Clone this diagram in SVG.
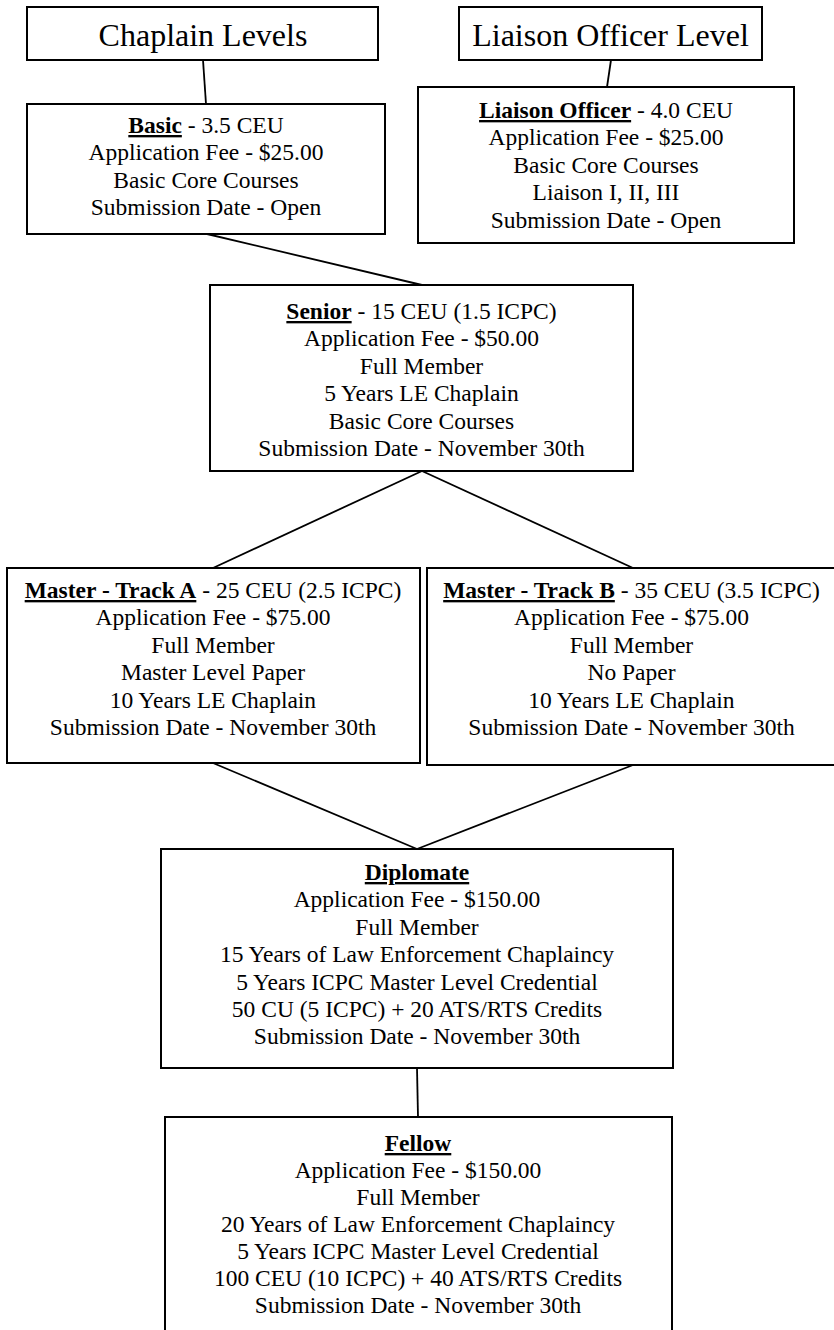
<svg xmlns="http://www.w3.org/2000/svg" width="834" height="1330" viewBox="0 0 834 1330">
<style>
  .box { fill: #ffffff; stroke: #000000; stroke-width: 2; }
  .ln { stroke: #000000; stroke-width: 1.8; fill: none; }
  text { font-family: "Liberation Serif", "Times New Roman", serif; fill: #000000; text-anchor: middle; }
  .t { font-size: 32px; }
  .b { font-size: 23.5px; }
  .h { font-weight: bold; text-decoration: underline; }
</style>
<rect width="834" height="1330" fill="#ffffff"/>
<g id="connectors">
  <line class="ln" x1="203" y1="60" x2="206" y2="104"/>
  <line class="ln" x1="611" y1="60" x2="607" y2="87"/>
  <line class="ln" x1="207" y1="234" x2="422" y2="285"/>
  <line class="ln" x1="422" y1="471" x2="213" y2="568"/>
  <line class="ln" x1="422" y1="471" x2="633" y2="568"/>
  <line class="ln" x1="213" y1="763" x2="417" y2="849"/>
  <line class="ln" x1="633" y1="765" x2="417" y2="849"/>
  <line class="ln" x1="417" y1="1068" x2="418" y2="1117"/>
</g>
<g id="chaplain-levels">
  <rect class="box" x="27" y="7" width="351" height="53"/>
  <text class="t" x="203" y="46">Chaplain Levels</text>
</g>
<g id="liaison-officer-level">
  <rect class="box" x="459" y="7" width="303" height="53"/>
  <text class="t" x="610.5" y="46">Liaison Officer Level</text>
</g>
<g id="basic">
  <rect class="box" x="27" y="104" width="358" height="130"/>
  <text class="b" x="206" y="133"><tspan class="h">Basic</tspan> - 3.5 CEU</text>
  <text class="b" x="206" y="160.4">Application Fee - $25.00</text>
  <text class="b" x="206" y="187.8">Basic Core Courses</text>
  <text class="b" x="206" y="215.2">Submission Date - Open</text>
</g>
<g id="liaison-officer">
  <rect class="box" x="418" y="87" width="376" height="156"/>
  <text class="b" x="606" y="118"><tspan class="h">Liaison Officer</tspan> - 4.0 CEU</text>
  <text class="b" x="606" y="145.4">Application Fee - $25.00</text>
  <text class="b" x="606" y="172.8">Basic Core Courses</text>
  <text class="b" x="606" y="200.2">Liaison I, II, III</text>
  <text class="b" x="606" y="227.6">Submission Date - Open</text>
</g>
<g id="senior">
  <rect class="box" x="210" y="285" width="423" height="186"/>
  <text class="b" x="421.5" y="319"><tspan class="h">Senior</tspan> - 15 CEU (1.5 ICPC)</text>
  <text class="b" x="421.5" y="346.4">Application Fee - $50.00</text>
  <text class="b" x="421.5" y="373.8">Full Member</text>
  <text class="b" x="421.5" y="401.2">5 Years LE Chaplain</text>
  <text class="b" x="421.5" y="428.6">Basic Core Courses</text>
  <text class="b" x="421.5" y="456">Submission Date - November 30th</text>
</g>
<g id="master-track-a">
  <rect class="box" x="7" y="568" width="413" height="195"/>
  <text class="b" x="213" y="598"><tspan class="h">Master - Track A</tspan> - 25 CEU (2.5 ICPC)</text>
  <text class="b" x="213" y="625.4">Application Fee - $75.00</text>
  <text class="b" x="213" y="652.8">Full Member</text>
  <text class="b" x="213" y="680.2">Master Level Paper</text>
  <text class="b" x="213" y="707.6">10 Years LE Chaplain</text>
  <text class="b" x="213" y="735">Submission Date - November 30th</text>
</g>
<g id="master-track-b">
  <rect class="box" x="427" y="568" width="412" height="197"/>
  <text class="b" x="631.5" y="598"><tspan class="h">Master - Track B</tspan> - 35 CEU (3.5 ICPC)</text>
  <text class="b" x="631.5" y="625.4">Application Fee - $75.00</text>
  <text class="b" x="631.5" y="652.8">Full Member</text>
  <text class="b" x="631.5" y="680.2">No Paper</text>
  <text class="b" x="631.5" y="707.6">10 Years LE Chaplain</text>
  <text class="b" x="631.5" y="735">Submission Date - November 30th</text>
</g>
<g id="diplomate">
  <rect class="box" x="161" y="849" width="512" height="219"/>
  <text class="b" x="417" y="880"><tspan class="h">Diplomate</tspan></text>
  <text class="b" x="417" y="907.4">Application Fee - $150.00</text>
  <text class="b" x="417" y="934.8">Full Member</text>
  <text class="b" x="417" y="962.2">15 Years of Law Enforcement Chaplaincy</text>
  <text class="b" x="417" y="989.6">5 Years ICPC Master Level Credential</text>
  <text class="b" x="417" y="1017">50 CU (5 ICPC) + 20 ATS/RTS Credits</text>
  <text class="b" x="417" y="1044.4">Submission Date - November 30th</text>
</g>
<g id="fellow">
  <rect class="box" x="165" y="1117" width="507" height="230"/>
  <text class="b" x="418" y="1151"><tspan class="h">Fellow</tspan></text>
  <text class="b" x="418" y="1178">Application Fee - $150.00</text>
  <text class="b" x="418" y="1205">Full Member</text>
  <text class="b" x="418" y="1232">20 Years of Law Enforcement Chaplaincy</text>
  <text class="b" x="418" y="1259">5 Years ICPC Master Level Credential</text>
  <text class="b" x="418" y="1286">100 CEU (10 ICPC) + 40 ATS/RTS Credits</text>
  <text class="b" x="418" y="1313">Submission Date - November 30th</text>
</g>
</svg>
